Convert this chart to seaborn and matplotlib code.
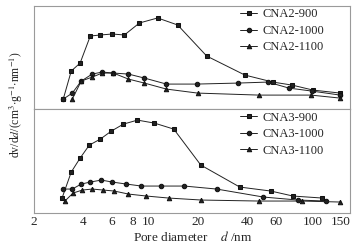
import numpy as np
import pandas as pd
import matplotlib
matplotlib.use('Agg')
import matplotlib.pyplot as plt
import seaborn as sns

# Data (y in arbitrary units) --------------------------------------------------

cna2_900_d = [3.03, 3.39, 3.84, 4.43, 5.10, 6.03, 7.15, 8.83, 11.4, 15.1, 22.7,
              38.8, 57.5, 75.2, 101, 148]
cna2_900_v = [10, 38, 46, 73, 74, 75, 74, 86, 91, 84, 53, 34, 27, 24, 19, 16]

cna2_1000_d = [3.03, 3.44, 3.90, 4.55, 5.24, 6.12, 7.56, 9.47, 12.9, 19.7, 35.1,
               53.6, 72.0, 99.6, 148]
cna2_1000_v = [10, 16, 28, 35, 37, 36, 35, 31, 25, 25, 26, 27, 21, 18, 14]

cna2_1100_d = [3.44, 3.90, 4.55, 5.24, 6.12, 7.56, 9.47, 12.9, 20.0, 47.2, 98.2, 148]
cna2_1100_v = [10, 28, 32, 36, 36, 30, 26, 20, 16, 14, 14, 11]

cna3_900_d = [2.98, 3.39, 3.84, 4.37, 5.10, 5.95, 7.05, 8.59, 10.9, 14.3, 20.9,
              36.1, 55.9, 76.2, 115]
cna3_900_v = [15, 41, 55, 68, 74, 82, 89, 93, 90, 84, 48, 26, 22, 17, 15]

cna3_1000_d = [3.03, 3.44, 3.90, 4.43, 5.17, 6.03, 7.35, 9.08, 11.9, 16.6, 26.1,
               50.3, 81.8, 121]
cna3_1000_v = [24, 24, 29, 31, 33, 31, 29, 27, 27, 27, 24, 16, 13, 12]

cna3_1100_d = [3.10, 3.48, 3.96, 4.55, 5.32, 6.21, 7.56, 9.75, 13.3, 21.1, 47.2,
               86.5, 148]
cna3_1100_v = [12, 20, 23, 24, 23, 22, 19, 17, 15, 13, 12, 12, 11]

tick_vals = [2, 4, 6, 8, 10, 20, 40, 60, 100, 150]


def frame(names, ds, vs):
    parts = [pd.DataFrame({'d': d, 'v': v, 'sample': n})
             for n, d, v in zip(names, ds, vs)]
    return pd.concat(parts, ignore_index=True)


df2 = frame(['CNA2-900', 'CNA2-1000', 'CNA2-1100'],
            [cna2_900_d, cna2_1000_d, cna2_1100_d],
            [cna2_900_v, cna2_1000_v, cna2_1100_v])
df3 = frame(['CNA3-900', 'CNA3-1000', 'CNA3-1100'],
            [cna3_900_d, cna3_1000_d, cna3_1100_d],
            [cna3_900_v, cna3_1000_v, cna3_1100_v])

# Plot -------------------------------------------------------------------------

sns.set_theme(style='white')
plt.rcParams['font.family'] = ['Liberation Serif', 'DejaVu Serif']
plt.rcParams['mathtext.fontset'] = 'stix'

fig = plt.figure(figsize=(3.58, 2.48), dpi=100)
ax1 = fig.add_axes([0.094, 0.560, 0.884, 0.416])
ax2 = fig.add_axes([0.094, 0.141, 0.884, 0.419])

for ax, df, top in [(ax1, df2, 103), (ax2, df3, 104)]:
    sns.lineplot(data=df, x='d', y='v', hue='sample', style='sample',
                 markers=['s', 'o', '^'], dashes=False,
                 palette=['#222222'] * 3, sort=False, ax=ax,
                 linewidth=0.7, markersize=3.2, markeredgecolor='#111111')
    ax.set_xscale('log')
    ax.set_xlim(2, 170)
    ax.set_ylim(0, top)
    ax.set_yticks([])
    ax.set_xlabel('')
    ax.set_ylabel('')
    ax.minorticks_off()
    for s in ax.spines.values():
        s.set_color('#9a9a9a')
        s.set_linewidth(0.8)
    ax.tick_params(axis='x', direction='in', length=3, width=0.7,
                   color='#555555', labelsize=9.5, pad=2)
    ax.legend(loc='upper left', frameon=False, fontsize=9,
              handlelength=1.36, handletextpad=0.4, labelspacing=0.36,
              borderaxespad=0, borderpad=0.2, bbox_to_anchor=(0.645, 1.0))

ax1.set_xticks([4, 6, 8, 10, 20])
ax1.set_xticklabels([])
ax2.set_xticks(tick_vals)
ax2.set_xticklabels([str(t) for t in tick_vals])

fig.text(0.045, 0.58, r'dv/d$\it{d}$/(cm$^3$$\cdot$g$^{-1}$$\cdot$nm$^{-1}$)',
         rotation=90, ha='center', va='center', fontsize=8.5)
fig.text(0.372, 0.045, r'Pore diameter    $\it{d}$ /nm', ha='left',
         va='center', fontsize=9.5)

fig.savefig('out.png', dpi=100)
